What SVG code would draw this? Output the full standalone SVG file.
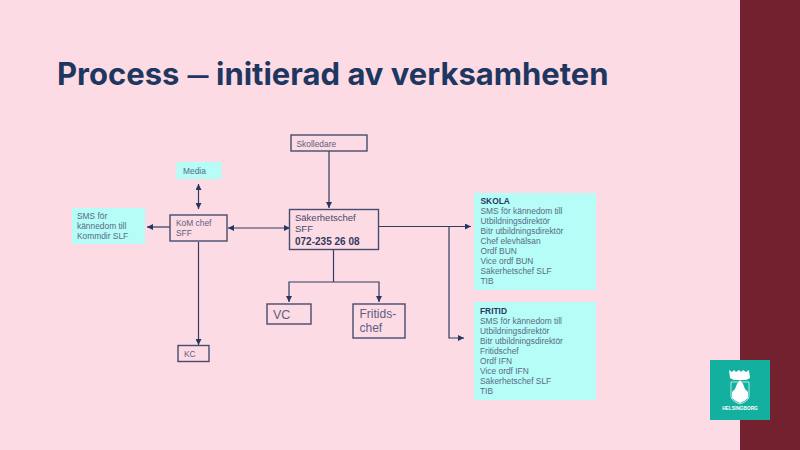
<svg xmlns="http://www.w3.org/2000/svg" width="800" height="450" viewBox="0 0 800 450">
<defs>
<marker id="a" markerUnits="userSpaceOnUse" markerWidth="7" markerHeight="6" refX="6" refY="3" orient="auto-start-reverse"><path d="M0 0L6 3L0 6Z" fill="#27375f"/></marker>
</defs>
<style>
.b{fill:none;stroke:#454c6e;stroke-width:1.4}
.c{fill:#b5fdf6}
.l{fill:none;stroke:#2f3c63;stroke-width:1.2}
text{font-family:"Liberation Sans",Arial,sans-serif;fill:#5c6180}
.s{font-size:8.4px}
.t{font-size:8.4px;fill:#5a6a86}
.h{font-weight:700;fill:#27375f}
</style>
<rect width="800" height="450" fill="#fddbe4"/>
<rect x="740" width="60" height="450" fill="#73212f"/>
<text id="title" y="84.500" font-size="31" font-weight="700" style="font-family:Inter,'Liberation Sans',sans-serif;fill:#1e3760"><tspan x="57">Process</tspan> <tspan x="187.500" y="83" font-size="21" font-weight="800">—</tspan> <tspan x="216" y="84.500">initierad av verksamheten</tspan></text>
<g id="connectors">
<path class="l" d="M329 151V208" marker-end="url(#a)"/>
<path class="l" d="M198.500 184V209" marker-start="url(#a)" marker-end="url(#a)"/>
<path class="l" d="M170 227H147" marker-end="url(#a)"/>
<path class="l" d="M228 228H290" marker-start="url(#a)" marker-end="url(#a)"/>
<path class="l" d="M198.500 242V345" marker-end="url(#a)"/>
<path class="l" d="M333.500 250V282"/>
<path class="l" d="M289 302V282H379V302" marker-start="url(#a)" marker-end="url(#a)"/>
<path class="l" d="M379 226.500H471" marker-end="url(#a)"/>
<path class="l" d="M449 226.500V338H464" marker-end="url(#a)"/>
</g>
<g id="skolledare"><rect class="b" x="291" y="135" width="76" height="16"/><text class="s" x="296.500" y="146.500">Skolledare</text></g>
<g id="media"><rect class="c" x="176.500" y="162" width="45" height="17"/><text class="t" x="183" y="173.500">Media</text></g>
<g id="sms"><rect class="c" x="72" y="208" width="73" height="36"/><text class="t"><tspan x="77" y="219">SMS för</tspan><tspan x="77" y="229">kännedom till</tspan><tspan x="77" y="239">Kommdir SLF</tspan></text></g>
<g id="kom"><rect class="b" x="170" y="215" width="57" height="26"/><text class="s"><tspan x="176" y="226">KoM chef</tspan><tspan x="176" y="236">SFF</tspan></text></g>
<g id="sakerhetschef"><rect class="b" x="289.500" y="209.500" width="89" height="40"/><text font-size="9.500" style="fill:#45496b"><tspan x="295" y="221">Säkerhetschef</tspan><tspan x="295" y="232">SFF</tspan><tspan x="295" y="244.500" font-size="10" font-weight="700" style="fill:#2f3a5e">072-235 26 08</tspan></text></g>
<g id="vc"><rect class="b" x="267" y="304" width="44" height="20"/><text x="273" y="319" font-size="12.500">VC</text></g>
<g id="fritidschef"><rect class="b" x="353" y="304" width="52" height="34"/><text font-size="12"><tspan x="359.500" y="318">Fritids-</tspan><tspan x="359.500" y="332">chef</tspan></text></g>
<g id="kc"><rect class="b" x="178" y="345.500" width="31" height="16"/><text x="184" y="357" font-size="8.400">KC</text></g>
<g id="skola"><rect class="c" x="474" y="193" width="122" height="97"/><text class="t"><tspan x="480.500" y="204" class="h">SKOLA</tspan><tspan x="480.500" y="214">SMS för kännedom till</tspan><tspan x="480.500" y="224">Utbildningsdirektör</tspan><tspan x="480.500" y="234">Bitr utbildningsdirektör</tspan><tspan x="480.500" y="244">Chef elevhälsan</tspan><tspan x="480.500" y="254">Ordf BUN</tspan><tspan x="480.500" y="264">Vice ordf BUN</tspan><tspan x="480.500" y="274">Säkerhetschef SLF</tspan><tspan x="480.500" y="284">TIB</tspan></text></g>
<g id="fritid"><rect class="c" x="474" y="302" width="122" height="98"/><text class="t"><tspan x="480" y="314" class="h">FRITID</tspan><tspan x="480" y="324">SMS för kännedom till</tspan><tspan x="480" y="334">Utbildningsdirektör</tspan><tspan x="480" y="344">Bitr utbildningsdirektör</tspan><tspan x="480" y="354">Fritidschef</tspan><tspan x="480" y="364">Ordf IFN</tspan><tspan x="480" y="374">Vice ordf IFN</tspan><tspan x="480" y="384">Säkerhetschef SLF</tspan><tspan x="480" y="394">TIB</tspan></text></g>
<g id="logo"><rect x="710" y="360" width="60" height="60" fill="#14b09f"/>
<path d="M729 370L732 372L734 370L736 372L739 370L741 372L743 370L746 372L749 370L750 378L746 380H734L730 378Z" fill="#fff"/>
<path d="M731 382H749V396Q749 401 740 404Q731 401 731 396Z" fill="none" stroke="#fff" stroke-width=".7"/>
<path d="M740 380Q744 384 745 389L748 392V398Q744 402 740 403Q736 402 732 398V392L735 389Q736 384 740 380Z" fill="#fff"/>
<text x="740" y="410" text-anchor="middle" font-size="4.800" font-weight="700" style="fill:#fff">HELSINGBORG</text></g>
</svg>
